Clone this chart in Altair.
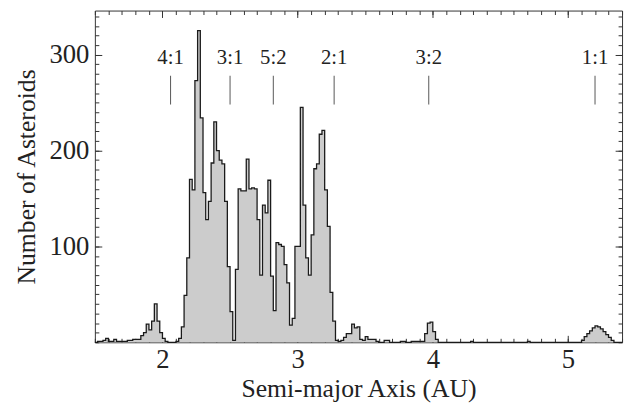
import altair as alt
import pandas as pd

# ---- data ----
bin_start = 1.50
bin_width = 0.02
counts = [
    0, 1, 1, 2, 4, 1, 1, 3, 1, 1,
    1, 1, 2, 2, 3, 3, 3, 7, 10, 19,
    13, 22, 40, 22, 10, 4, 1, 0, 0, 0,
    1, 4, 16, 49, 88, 170, 159, 273, 325, 234,
    156, 128, 147, 187, 230, 200, 190, 186, 147, 79,
    32, 2, 76, 160, 158, 158, 191, 160, 161, 160,
    128, 70, 143, 135, 169, 69, 33, 104, 102, 100,
    81, 62, 18, 25, 100, 100, 245, 143, 88, 70,
    112, 181, 186, 217, 221, 159, 121, 52, 22, 2,
    1, 2, 5, 9, 9, 19, 15, 16, 3, 2,
    6, 3, 3, 3, 1, 0, 0, 2, 2, 0,
    0, 0, 0, 1, 1, 0, 0, 1, 1, 1,
    1, 1, 9, 20, 21, 11, 3, 0, 0, 0,
    0, 0, 0, 0, 0, 0, 0, 0, 0, 1,
    0, 0, 0, 0, 0, 0, 0, 0, 0, 0,
    0, 0, 0, 0, 0, 0, 0, 0, 0, 0,
    1, 0, 0, 0, 0, 0, 0, 0, 0, 0,
    0, 0, 0, 0, 0, 0, 0, 0, 0, 0,
    2, 6, 9, 12, 15, 17, 16, 14, 11, 8,
    5, 2, 0, 0, 0,
]
res_labels = ["4:1", "3:1", "5:2", "2:1", "3:2", "1:1"]
res_pos = [2.06, 2.50, 2.82, 3.27, 3.97, 5.20]

x_major = [2, 3, 4, 5]
x_minor = [round(1.5 + 0.1 * i, 1) for i in range(40)]
y_major = [100, 200, 300]
y_minor = list(range(0, 350, 10))

# ---- tables ----
edges = [round(bin_start + bin_width * i, 2) for i in range(len(counts) + 1)]
hist = pd.DataFrame({"a": edges, "n": counts + [counts[-1]]})
res = pd.DataFrame({"pos": res_pos, "lab": res_labels,
                    "y1": [278] * len(res_pos), "y2": [248] * len(res_pos),
                    "ylab": [290] * len(res_pos)})

FONT = "Liberation Serif"
XS = alt.Scale(domain=[1.5, 5.4], nice=False, zero=False)
YS = alt.Scale(domain=[0, 346], nice=False, zero=False)
AX = dict(domain=False, grid=False, tickColor="#333333", tickWidth=1)


def ax(orient, values, size, **kw):
    return alt.Axis(orient=orient, values=values, offset=-size, tickSize=size, **AX, **kw)


area = alt.Chart(hist).mark_area(interpolate="step-after", color="#cccccc").encode(
    x=alt.X("a:Q", scale=XS,
            axis=ax("bottom", x_major, 7, format="d", labelPadding=5,
                    title="Semi-major Axis (AU)", titlePadding=3)),
    y=alt.Y("n:Q", scale=YS,
            axis=ax("left", y_major, 7, format="d", labelPadding=6,
                    title="Number of Asteroids", titlePadding=10)),
)

rules = alt.Chart(res).mark_rule(color="#555555", strokeWidth=1).encode(
    x=alt.X("pos:Q", scale=XS, axis=ax("bottom", x_minor, 4, labels=False, title=None)),
    y=alt.Y("y1:Q", scale=YS, axis=ax("left", y_minor, 4, labels=False, title=None)),
    y2="y2:Q",
)

texts = alt.Chart(res).mark_text(font=FONT, fontSize=21, color="#222222",
                                 baseline="alphabetic", align="center").encode(
    x=alt.X("pos:Q", scale=XS, axis=ax("top", x_major, 7, labels=False, title=None)),
    y=alt.Y("ylab:Q", scale=YS, axis=ax("right", y_major, 7, labels=False, title=None)),
    text="lab:N",
)

line = alt.Chart(hist).mark_line(interpolate="step-after", color="#1a1a1a", strokeWidth=1.3).encode(
    x=alt.X("a:Q", scale=XS, axis=ax("top", x_minor, 4, labels=False, title=None)),
    y=alt.Y("n:Q", scale=YS, axis=ax("right", y_minor, 4, labels=False, title=None)),
)

chart = (
    alt.layer(area, rules, texts, line)
    .resolve_axis(x="independent", y="independent")
    .properties(width=534, height=336,
                autosize=alt.AutoSizeParams(type="none"),
                padding={"left": 88, "top": 0, "right": 4, "bottom": 66})
    .configure_view(stroke="#333333", strokeWidth=1)
    .configure_axis(labelFont=FONT, titleFont=FONT, labelFontSize=27, titleFontSize=26,
                    titleFontWeight="normal", labelColor="#222222", titleColor="#222222")
)

chart.save("out.html", embed_options={"renderer": "svg", "actions": False})
